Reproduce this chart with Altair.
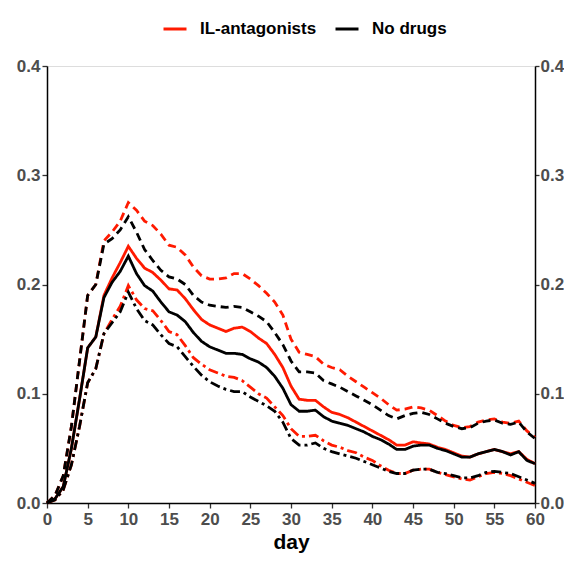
import altair as alt
import pandas as pd

days = list(range(61))

il_mean = [0, 0.004, 0.015, 0.05, 0.095, 0.142, 0.152, 0.19, 0.206, 0.22, 0.235,
           0.224, 0.215, 0.211, 0.204, 0.196, 0.195, 0.187, 0.177, 0.168, 0.163,
           0.16, 0.157, 0.16, 0.161, 0.157, 0.151, 0.146, 0.136, 0.124, 0.107,
           0.095, 0.094, 0.094, 0.088, 0.083, 0.081, 0.078, 0.074, 0.07, 0.066,
           0.062, 0.058, 0.053, 0.053, 0.056, 0.055, 0.054, 0.051, 0.049, 0.046,
           0.043, 0.042, 0.045, 0.047, 0.049, 0.047, 0.045, 0.047, 0.04, 0.036]
il_upper = [0, 0.007, 0.025, 0.07, 0.13, 0.19, 0.2, 0.24, 0.248, 0.258, 0.275,
            0.268, 0.258, 0.254, 0.246, 0.236, 0.234, 0.227, 0.216, 0.208, 0.205,
            0.205, 0.206, 0.21, 0.21, 0.205, 0.199, 0.192, 0.184, 0.172, 0.15,
            0.138, 0.136, 0.134, 0.127, 0.124, 0.122, 0.116, 0.111, 0.106, 0.101,
            0.096, 0.09, 0.085, 0.086, 0.088, 0.087, 0.085, 0.08, 0.075, 0.071,
            0.069, 0.07, 0.074, 0.076, 0.077, 0.074, 0.073, 0.075, 0.066, 0.06]
il_lower = [0, 0.003, 0.012, 0.035, 0.07, 0.11, 0.123, 0.155, 0.168, 0.18, 0.199,
            0.186, 0.178, 0.176, 0.167, 0.157, 0.154, 0.144, 0.133, 0.127, 0.122,
            0.119, 0.116, 0.115, 0.112, 0.106, 0.1, 0.096, 0.088, 0.08, 0.068,
            0.061, 0.061, 0.062, 0.057, 0.053, 0.051, 0.048, 0.046, 0.042, 0.039,
            0.034, 0.03, 0.027, 0.027, 0.03, 0.031, 0.031, 0.028, 0.026, 0.024,
            0.022, 0.021, 0.024, 0.027, 0.028, 0.027, 0.025, 0.022, 0.019, 0.016]

nd_mean = [0, 0.004, 0.015, 0.05, 0.095, 0.142, 0.152, 0.188, 0.202, 0.212, 0.226,
           0.21, 0.199, 0.194, 0.184, 0.175, 0.172, 0.166, 0.156, 0.148, 0.143,
           0.14, 0.137, 0.137, 0.136, 0.132, 0.129, 0.124, 0.116, 0.105, 0.09,
           0.084, 0.084, 0.085, 0.079, 0.075, 0.073, 0.071, 0.068, 0.065, 0.061,
           0.058, 0.054, 0.049, 0.049, 0.052, 0.053, 0.053, 0.05, 0.048, 0.045,
           0.042, 0.042, 0.045, 0.047, 0.049, 0.047, 0.044, 0.047, 0.039, 0.036]
nd_upper = [0, 0.007, 0.025, 0.07, 0.13, 0.19, 0.2, 0.237, 0.242, 0.25, 0.262,
            0.248, 0.232, 0.222, 0.213, 0.207, 0.205, 0.2, 0.19, 0.184, 0.181,
            0.18, 0.179, 0.18, 0.179, 0.175, 0.171, 0.166, 0.156, 0.145, 0.13,
            0.12, 0.12, 0.119, 0.112, 0.109, 0.106, 0.102, 0.098, 0.094, 0.09,
            0.085, 0.08, 0.077, 0.08, 0.082, 0.083, 0.081, 0.077, 0.073, 0.07,
            0.068, 0.069, 0.073, 0.075, 0.076, 0.073, 0.072, 0.074, 0.065, 0.059]
nd_lower = [0, 0.003, 0.012, 0.035, 0.07, 0.11, 0.123, 0.155, 0.165, 0.175, 0.193,
            0.178, 0.167, 0.163, 0.154, 0.146, 0.143, 0.134, 0.125, 0.117, 0.111,
            0.107, 0.104, 0.102, 0.102, 0.097, 0.093, 0.089, 0.084, 0.074, 0.059,
            0.053, 0.053, 0.055, 0.05, 0.047, 0.045, 0.043, 0.041, 0.038, 0.035,
            0.032, 0.029, 0.027, 0.027, 0.03, 0.031, 0.031, 0.028, 0.027, 0.025,
            0.023, 0.023, 0.025, 0.028, 0.029, 0.028, 0.027, 0.024, 0.021, 0.018]

groups = ["IL-antagonists", "No drugs"]
group_colors = ["#ff1a00", "#000000"]
stats = ["mean", "upper", "lower"]
x_ticks = [0, 5, 10, 15, 20, 25, 30, 35, 40, 45, 50, 55, 60]
y_ticks = [0, 0.1, 0.2, 0.3, 0.4]

series = {
    "IL-antagonists": {"mean": il_mean, "upper": il_upper, "lower": il_lower},
    "No drugs": {"mean": nd_mean, "upper": nd_upper, "lower": nd_lower},
}
rows = []
for g in groups:
    for s in stats:
        for d, v in zip(days, series[g][s]):
            rows.append({"day": d, "value": v, "group": g, "stat": s,
                         "series": g + "-" + s})
df = pd.DataFrame(rows)

FONT = "Liberation Sans"
axis_common = dict(
    labelFont=FONT, labelFontSize=17, labelFontWeight="bold",
    labelColor="#4d4d4d", domainColor="#000000", domainWidth=1.5,
    tickColor="#333333", tickWidth=1.3, grid=False, labelFlush=False,
)

x_enc = alt.X("day:Q", scale=alt.Scale(domain=[0, 60], nice=False),
              axis=alt.Axis(values=x_ticks, title="day", titleFont=FONT,
                            titleFontSize=21, titleFontWeight="bold",
                            titleColor="#000000", titlePadding=4,
                            tickSize=5, labelPadding=3, **axis_common))
y_scale = alt.Scale(domain=[0, 0.4], nice=False)

color_enc = alt.Color(
    "group:N",
    scale=alt.Scale(domain=groups, range=group_colors),
    legend=alt.Legend(
        title=None, orient="none", legendX=115, legendY=-50,
        direction="horizontal", symbolType="stroke", symbolStrokeWidth=3,
        symbolSize=529, labelFont=FONT, labelFontSize=17,
        labelFontWeight="bold", labelColor="#000000", labelOffset=12,
        columnPadding=12,
    ),
)
dash_enc = alt.StrokeDash(
    "stat:N",
    scale=alt.Scale(domain=stats, range=[[1, 0], [8, 5], [10, 4, 3, 4]]),
    legend=None,
)

base = alt.Chart(df).mark_line(strokeWidth=2.8)

red = base.transform_filter(alt.datum.group == "IL-antagonists").encode(
    x=x_enc,
    y=alt.Y("value:Q", scale=y_scale,
            axis=alt.Axis(values=y_ticks, format=".1f", title=None, orient="left",
                          tickSize=5, labelPadding=2, **axis_common)),
    color=color_enc, strokeDash=dash_enc, detail="series:N",
)
black = base.transform_filter(alt.datum.group == "No drugs").encode(
    x=x_enc,
    y=alt.Y("value:Q", scale=y_scale, axis=None),
    color=color_enc, strokeDash=dash_enc, detail="series:N",
)
right = alt.Chart(df).mark_line(opacity=0).encode(
    x=x_enc,
    y=alt.Y("value:Q", scale=y_scale,
            axis=alt.Axis(values=y_ticks, format=".1f", title=None, orient="right",
                          tickSize=4, labelPadding=1, **axis_common)),
    detail="series:N",
)

chart = alt.layer(red, black, right).resolve_axis(y="independent").properties(
    width=488, height=437,
    autosize=alt.AutoSizeParams(type="none"),
    padding={"left": 39, "top": 58, "right": 29, "bottom": 52},
).configure_view(stroke=None).configure(background="#ffffff")

chart.save("out.html", embed_options={"renderer": "svg", "actions": False})
